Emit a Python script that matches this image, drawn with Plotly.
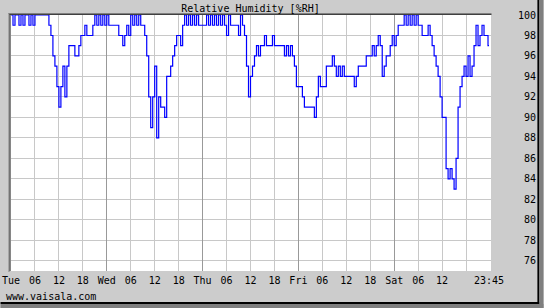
import plotly.graph_objects as go
import pandas as pd

# ---- data: relative humidity, 30-minute samples, Tue 00:00 .. Sat 23:30, plus Sat 23:45 ----
tue = [100, 99, 100, 100, 99, 100, 99, 100, 100, 99, 100, 99,
       100, 100, 100, 100, 100, 100,
       100, 99, 98, 96, 95, 93,
       91, 93, 95, 92, 95, 97,
       97, 97, 96, 96, 97, 98,
       98, 99, 98, 98, 98, 99,
       100, 99, 100, 99, 100, 99]
wed = [100, 99, 99, 99, 99, 99,
       98, 98, 97, 98, 99, 98,
       100, 99, 100, 99, 100, 99,
       99, 98, 96, 92, 89, 92,
       95, 88, 92, 91, 91, 90,
       94, 94, 95, 96, 97, 98,
       98, 97, 99, 100, 99, 100,
       99, 100, 99, 100, 99, 99]
thu = [99, 99, 100, 99, 100, 99,
       100, 99, 100, 99, 100, 99,
       98, 100, 99, 99, 99, 99,
       98, 100, 99, 98, 95, 92,
       94, 95, 96, 97, 96, 97,
       97, 98, 97, 97, 97, 98,
       97, 97, 97, 97, 97, 96,
       97, 96, 97, 96, 95, 93]
fri = [93, 93, 92, 91, 91, 91,
       91, 91, 90, 92, 94, 93,
       93, 93, 95, 95, 95, 96,
       95, 94, 95, 94, 95, 94,
       94, 94, 94, 94, 93, 94,
       95, 95, 95, 95, 96, 96,
       96, 97, 96, 97, 98, 97,
       94, 95, 96, 96, 97, 98]
sat = [97, 98, 99, 99, 99, 100,
       99, 100, 99, 100, 99, 100,
       99, 99, 98, 98, 98, 99,
       98, 97, 96, 95, 94, 92,
       90, 90, 85, 84, 85, 84,
       83, 86, 91, 93, 94, 95,
       94, 96, 94, 95, 97, 99,
       97, 98, 99, 98, 98, 97,
       97]

start = pd.Timestamp("2024-01-02 00:00")          # a Tuesday
times = list(pd.date_range(start, periods=240, freq="30min")) + [pd.Timestamp("2024-01-06 23:45")]
rh = tue + wed + thu + fri + sat

# axis ticks
grid_times = list(pd.date_range(start, "2024-01-06 18:00", freq="6h"))
grid_labels = ["Tue", "06", "12", "18", "Wed", "06", "12", "18", "Thu", "06", "12", "18",
               "Fri", "06", "12", "18", "Sat", "06", "12", "18"]
day_times = [t for t in grid_times if t.hour == 0 and t != start]
label_times = grid_times[:-1] + [times[-1]]
label_text = grid_labels[:-1] + ["23:45"]

y_ticks = list(range(76, 101, 2))
y_text = [("\u00a0" + str(v)) if v < 100 else str(v) for v in y_ticks]

x_range = [start, pd.Timestamp("2024-01-07 00:15")]
FONT = "DejaVu Sans Mono"
BG = "#cccccc"

fig = go.Figure()
fig.add_trace(go.Scatter(x=times, y=rh, mode="lines",
                         line=dict(color="#0000ff", width=1.2, shape="hv"),
                         hoverinfo="skip", showlegend=False))
# helper traces so the overlay axes exist
fig.add_trace(go.Scatter(x=[start], y=[None], xaxis="x2", mode="lines", showlegend=False, hoverinfo="skip"))
fig.add_trace(go.Scatter(x=[start], y=[None], xaxis="x3", mode="lines", showlegend=False, hoverinfo="skip"))

W, H = 544, 308
L, R, T, B = 10.5, 52.5, 15, 37
pw, ph = W - L - R, H - T - B


def px(xp):
    return (xp - L) / pw


def py(yp):
    return (H - B - yp) / ph


def rect(x0, x1, y0, y1, color):
    return dict(type="rect", xref="paper", yref="paper",
                x0=px(x0), x1=px(x1), y0=py(y1), y1=py(y0),
                fillcolor=color, line=dict(width=0), layer="above")


shapes = [
    rect(8, 9, 13, 272, "#808080"),
    rect(9, 10, 14, 271, "#404040"),
    rect(8, 492, 13, 14, "#808080"),
    rect(9, 492, 14, 15, "#404040"),
    rect(538, 540, 0, 308, "#000000"),
    rect(0, 540, 302, 304, "#000000"),
    rect(540, 544, 0, 308, "#7f7f7f"),
    rect(0, 544, 304, 308, "#7f7f7f"),
]

fig.update_layout(
    template="none",
    width=W, height=H,
    margin=dict(l=L, r=R, t=T, b=B, pad=0, autoexpand=False),
    paper_bgcolor=BG, plot_bgcolor="#ffffff",
    font=dict(family=FONT, size=10, color="#000000"),
    title=dict(text="Relative Humidity [%RH]", x=px(250.5), xref="paper", xanchor="center",
               y=1 - 8 / H, yref="container", yanchor="middle", automargin=False,
               font=dict(family=FONT, size=10, color="#000000")),
    xaxis=dict(type="date", range=x_range, tickmode="array", tickvals=label_times, ticktext=label_text,
               showgrid=False, zeroline=False, showline=False, ticks="", ticklabelstandoff=2,
               automargin=False,
               tickfont=dict(family=FONT, size=10, color="#000000"), fixedrange=True),
    xaxis2=dict(type="date", range=x_range, overlaying="x", tickmode="array", tickvals=grid_times,
                showgrid=True, gridcolor="#c8c8c8", gridwidth=1, showticklabels=False, ticks="",
                zeroline=False, showline=False, automargin=False),
    xaxis3=dict(type="date", range=x_range, overlaying="x", tickmode="array", tickvals=day_times,
                showgrid=True, gridcolor="#999999", gridwidth=1, showticklabels=False, ticks="",
                zeroline=False, showline=False, automargin=False),
    yaxis=dict(range=[75, 100], side="right", tickmode="array", tickvals=y_ticks, ticktext=y_text,
               showgrid=True, gridcolor="#c8c8c8", gridwidth=1, zeroline=False, showline=False,
               ticks="", ticklabelstandoff=26, automargin=False,
               tickfont=dict(family=FONT, size=10, color="#000000"), fixedrange=True),
    shapes=shapes,
    annotations=[dict(text="www.vaisala.com", xref="paper", yref="paper",
                      x=px(3), y=py(296), xanchor="left", yanchor="middle", showarrow=False,
                      font=dict(family=FONT, size=10, color="#000000"))],
    showlegend=False,
)

fig.write_html("out.html", config=dict(displayModeBar=False, staticPlot=True))
